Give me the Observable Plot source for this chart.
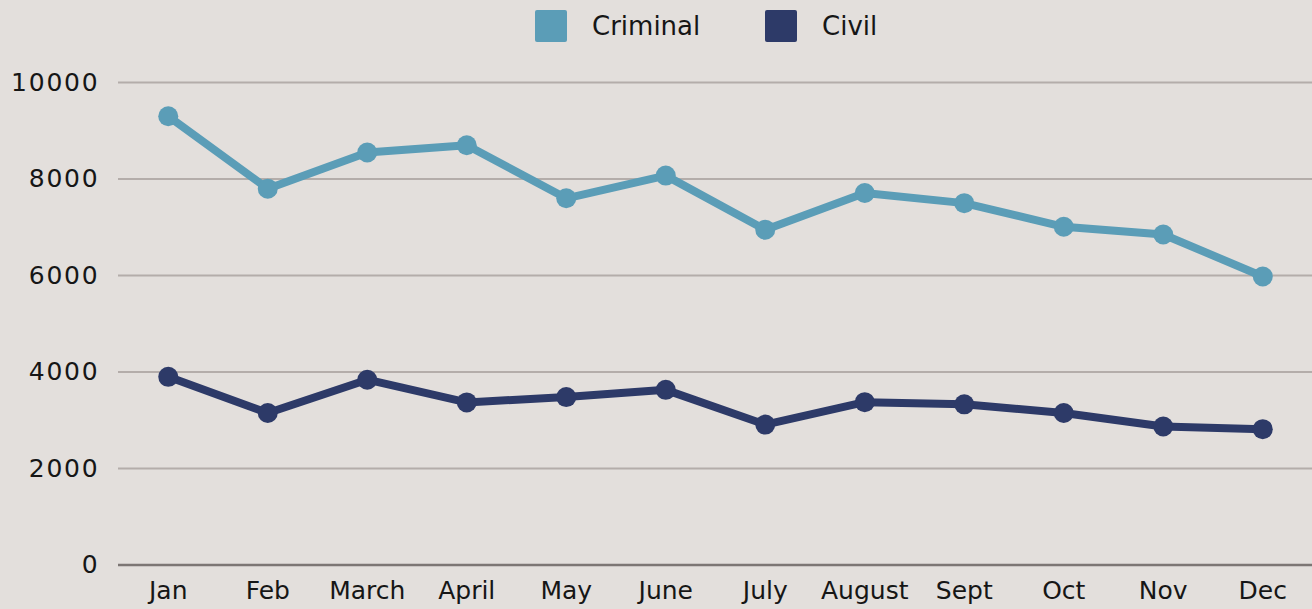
<!DOCTYPE html>
<html>
<head>
<meta charset="utf-8">
<script src="https://cdn.jsdelivr.net/npm/d3@7"></script>
<script src="https://cdn.jsdelivr.net/npm/@observablehq/plot@0.6"></script>
<style>
  html, body { margin: 0; padding: 0; background: #e3dfdc; width: 1312px; height: 609px; overflow: hidden; }
  body { font-family: "DejaVu Sans", sans-serif; }
  #legend { height: 54px; position: relative; }
  .sw { position: absolute; top: 10px; width: 32px; height: 32px; border-radius: 2px; }
  .lb { position: absolute; top: 8px; font-size: 26px; color: #161616; line-height: 36px; }
  #chart svg { display: block; }
  #chart g[aria-label="y-axis tick label"] text { letter-spacing: 1.8px; }
</style>
</head>
<body>
<div id="legend"></div>
<div id="chart"></div>
<script>
const months = ["Jan","Feb","March","April","May","June","July","August","Sept","Oct","Nov","Dec"];
const criminal = [9300, 7800, 8550, 8700, 7600, 8070, 6950, 7710, 7500, 7010, 6850, 5980];
const civil = [3900, 3150, 3840, 3370, 3480, 3630, 2910, 3375, 3330, 3150, 2870, 2815];
const seriesNames = ["Criminal", "Civil"];
const seriesColors = ["#5b9db7", "#2d3a68"];
const yTicks = [0, 2000, 4000, 6000, 8000, 10000];

const rows = [];
months.forEach((m, i) => {
  rows.push({month: m, value: criminal[i], series: "Criminal"});
  rows.push({month: m, value: civil[i], series: "Civil"});
});

// legend
const legend = document.getElementById("legend");
const legendPos = [{sw: 535, lb: 592}, {sw: 765, lb: 822}];
seriesNames.forEach((s, i) => {
  const sw = document.createElement("div");
  sw.className = "sw";
  sw.style.left = legendPos[i].sw + "px";
  sw.style.background = seriesColors[i];
  legend.appendChild(sw);
  const lb = document.createElement("div");
  lb.className = "lb";
  lb.style.left = legendPos[i].lb + "px";
  lb.textContent = s;
  legend.appendChild(lb);
});

const chart = Plot.plot({
  width: 1312,
  height: 555,
  marginTop: 28,
  marginBottom: 44.5,
  marginLeft: 118,
  marginRight: 0,
  style: { background: "transparent", fontFamily: "DejaVu Sans, sans-serif", fontSize: "25px", color: "#161616" },
  x: { type: "point", domain: months, padding: 0.5, round: false, label: null },
  y: { domain: [0, 10000], label: null },
  color: { domain: seriesNames, range: seriesColors },
  marks: [
    Plot.ruleY(yTicks.filter(d => d > 0), { stroke: "#b4adaa", strokeWidth: 2 }),
    Plot.ruleY([0], { stroke: "#7c7674", strokeWidth: 2.5 }),
    Plot.axisY({ ticks: yTicks, tickSize: 0, tickPadding: 19, tickFormat: d => String(d), fontSize: 25 }),
    Plot.axisX({ tickSize: 0, tickPadding: 16, fontSize: 25 }),
    Plot.line(rows, { x: "month", y: "value", z: "series", stroke: "series", strokeWidth: 8, strokeLinejoin: "round", strokeLinecap: "round" }),
    Plot.dot(rows, { x: "month", y: "value", fill: "series", r: 10 })
  ]
});
document.getElementById("chart").appendChild(chart);
</script>
</body>
</html>
